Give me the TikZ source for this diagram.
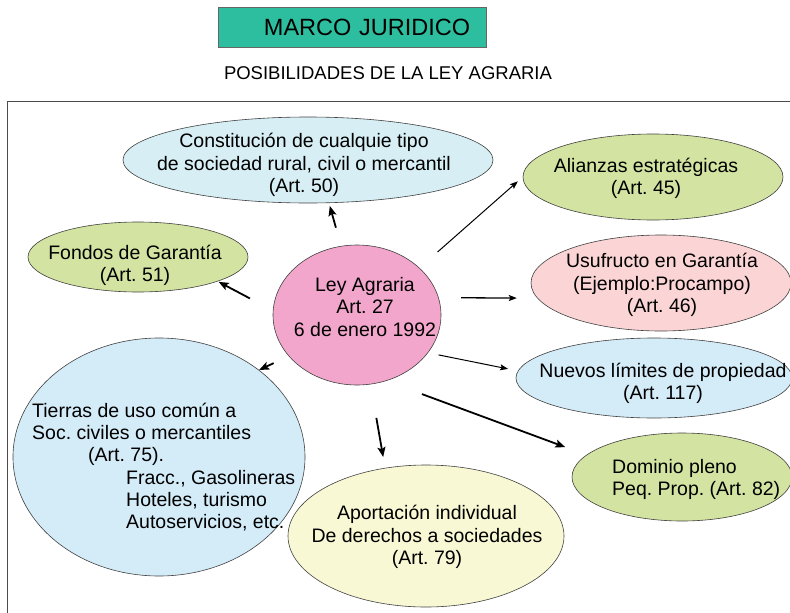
\documentclass[tikz,border=0pt]{standalone}
\usepackage{fontspec}
\setmainfont{Liberation Sans}
\frenchspacing
\usetikzlibrary{arrows.meta,shapes.geometric}
\definecolor{verdeagua}{HTML}{2CBE9E}
\definecolor{celeste}{HTML}{D6EEF4}
\definecolor{azulclaro}{HTML}{D4EBF8}
\definecolor{verdeclaro}{HTML}{D3E3A1}
\definecolor{rosa}{HTML}{F2A6CC}
\definecolor{rosaclaro}{HTML}{FBD5D5}
\definecolor{amarillo}{HTML}{F8F8D4}

\begin{document}
\begin{tikzpicture}[x=1pt,y=-1pt]
\tikzstyle{every node}=[inner sep=0pt]
\tikzstyle{bubble}=[ellipse, draw=black!75, line width=.6pt]
\tikzstyle{txt}=[align=center, font=\fontsize{19.5}{22.2}\selectfont]
\tikzstyle{arr}=[-{Stealth[length=10pt,width=8pt,inset=2pt]}, line width=1.8pt]
\tikzstyle{arrthin}=[-{Stealth[length=8pt,width=6pt,inset=1.5pt]}, line width=1pt]
\useasboundingbox (0,0) rectangle (790,613);
\clip (0,0) rectangle (790,613);
% titulo
\node (titulo) [draw=black!60, fill=verdeagua, anchor=north west, minimum height=40pt,
  text width=236pt, inner xsep=16pt, align=right, font=\fontsize{23.5}{26}\selectfont] at (218,7) {MARCO JURIDICO};
\node (subtitulo) [font=\fontsize{18.5}{20}\selectfont] at (388,73) {POSIBILIDADES DE LA LEY AGRARIA};
\draw[black!70, line width=.8pt] (7,101) rectangle (800,625);
% elipses
\node (art50) [bubble, fill=celeste, minimum width=370pt, minimum height=86pt] at (308,160) {};
\node (art45) [bubble, fill=verdeclaro, minimum width=260pt, minimum height=86pt] at (653,177) {};
\node (art51) [bubble, fill=verdeclaro, minimum width=220pt, minimum height=70pt] at (138,257) {};
\node (ley) [bubble, fill=rosa, minimum width=168pt, minimum height=140pt] at (357,315) {};
\node (art46) [bubble, fill=rosaclaro, minimum width=260pt, minimum height=96pt] at (661,283) {};
\node (art117) [bubble, fill=azulclaro, minimum width=276pt, minimum height=80pt] at (654,378) {};
\node (art82) [bubble, fill=verdeclaro, minimum width=220pt, minimum height=88pt] at (682,477) {};
\node (art75) [bubble, fill=azulclaro, minimum width=292pt, minimum height=238pt] at (159,457) {};
\node (art79) [bubble, fill=amarillo, minimum width=276pt, minimum height=142pt] at (426,536) {};
% textos
\node (art50-t) [txt] at (304,165) {Constitución de cualquie tipo\\de sociedad rural, civil o mercantil\\(Art. 50)};
\node (art45-t) [txt] at (646,178) {Alianzas estratégicas\\(Art. 45)};
\node (art51-t) [txt] at (135,265) {Fondos de Garantía\\(Art. 51)};
\node (ley-t) [txt] at (365,307) {Ley Agraria\\Art. 27\\6 de enero 1992};
\node (art46-t) [txt] at (662,285) {Usufructo en Garantía\\(Ejemplo:Procampo)\\(Art. 46)};
\node (art117-t) [txt] at (663,383) {Nuevos límites de propiedad\\(Art. 117)};
\node (art82-t) [txt, align=left, anchor=north west] at (612,459) {Dominio pleno\\Peq. Prop. (Art. 82)};
\node (art75-t) [txt, align=left, anchor=north west] at (32,403) {Tierras de uso común a\\Soc. civiles o mercantiles\\
  \hspace*{56pt}(Art. 75).\\\hspace*{94pt}Fracc., Gasolineras\\\hspace*{94pt}Hoteles, turismo\\\hspace*{94pt}Autoservicios, etc.};
\node (art79-t) [txt] at (427,537) {Aportación individual\\De derechos a sociedades\\(Art. 79)};
% flechas
\draw[arr, shorten <=19pt, shorten >=3pt] (ley.103) -- (art50.-64.5);
\draw[arr, shorten <=26pt, shorten >=1pt] (ley.177) -- (art51.-17);
\draw[arrthin, shorten <=24pt, shorten >=6.5pt] (ley.37) -- (art45.180);
\draw[arrthin, line width=1.3pt, shorten <=22.5pt, shorten >=20.5pt] (ley.12) -- (art46.187);
\draw[arrthin, shorten <=10.7pt, shorten >=10pt] (ley.-28) -- (art117.177.3);
\draw[arr, shorten <=38pt, shorten >=22.5pt] (ley.-66) -- (art82.167.8);
\draw[arr, shorten <=34pt, shorten >=11pt] (ley.-79) -- (art79.121);
\draw[arr, shorten <=16.5pt] (ley.211) -- (art75.41);
\end{tikzpicture}
\end{document}
